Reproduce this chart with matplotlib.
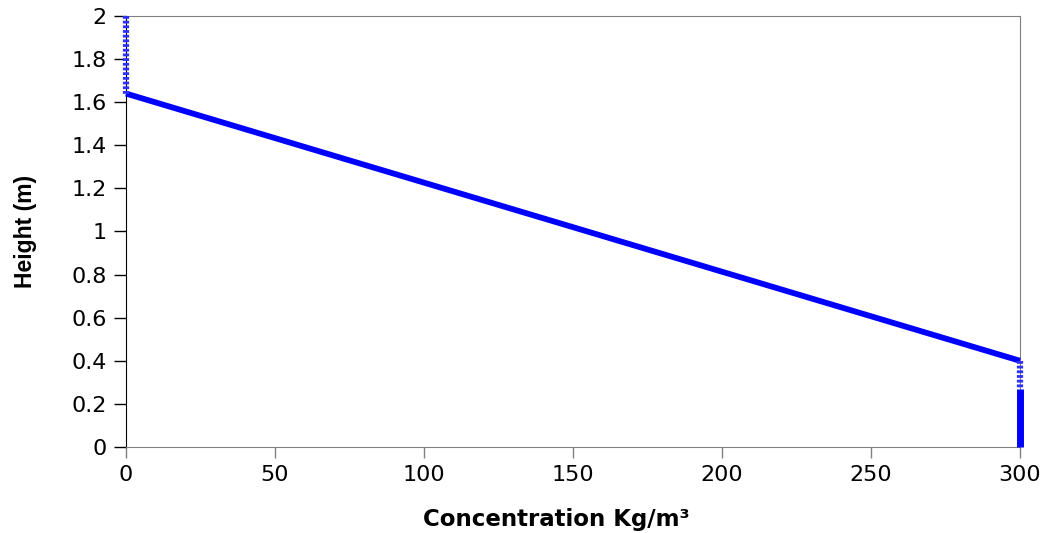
import numpy as np
import matplotlib
matplotlib.use('Agg')
from matplotlib import pyplot as plt

# Concentration profile along the column height
conc_top = [0, 0]            # Kg/m3, clear zone
height_top = [2.0, 1.64]
conc_slope = [0, 300]        # linear transition zone
height_slope = [1.64, 0.40]
conc_mid = [300, 300]        # transition into settled bed
height_mid = [0.40, 0.27]
conc_bed = [300, 300]        # settled bed
height_bed = [0.27, 0.0]

xticks = [0, 50, 100, 150, 200, 250, 300]
yticks = [0, 0.2, 0.4, 0.6, 0.8, 1, 1.2, 1.4, 1.6, 1.8, 2]
ytick_labels = ['0', '0.2', '0.4', '0.6', '0.8', '1', '1.2', '1.4', '1.6', '1.8', '2']

plt.rcParams['font.family'] = ['DejaVu Sans']

fig = plt.figure(figsize=(10.5, 5.33), dpi=100)
ax = fig.add_axes([0.12, 0.1614, 0.8514, 0.8086])

blue = '#0000ff'
ax.plot(conc_slope, height_slope, color=blue, lw=4.2, solid_capstyle='butt', clip_on=False, zorder=3)
ax.plot(conc_top, height_top, color='#3030ff', lw=4.5, linestyle=(0, (0.45, 0.3)), clip_on=False, zorder=3)
ax.plot(conc_mid, height_mid, color='#3030ff', lw=4.5, linestyle=(0, (0.45, 0.3)), clip_on=False, zorder=3)
ax.plot(conc_bed, height_bed, color=blue, lw=5, solid_capstyle='butt', clip_on=False, zorder=3)

ax.set_xlim(0, 300)
ax.set_ylim(0, 2)
ax.set_xticks(xticks)
ax.set_yticks(yticks)
ax.set_yticklabels(ytick_labels)
ax.tick_params(axis='both', labelsize=16, width=1, direction='out')
ax.tick_params(axis='x', length=8, pad=5, colors='#808080', labelcolor='black')
ax.tick_params(axis='y', length=9, pad=5)

for side in ['top', 'right', 'bottom']:
    ax.spines[side].set_color('#808080')
ax.spines['left'].set_color('black')

ax.set_xlabel('Concentration Kg/m³', fontsize=16.5, fontweight='bold')
ax.xaxis.set_label_coords(0.4815, -0.142)
ax.set_ylabel('Height (m)', fontsize=16.5, fontweight='bold',
              family=['Liberation Sans', 'DejaVu Sans'])
ax.yaxis.set_label_coords(-0.1, 0.5)

plt.savefig('out.png', dpi=100)
